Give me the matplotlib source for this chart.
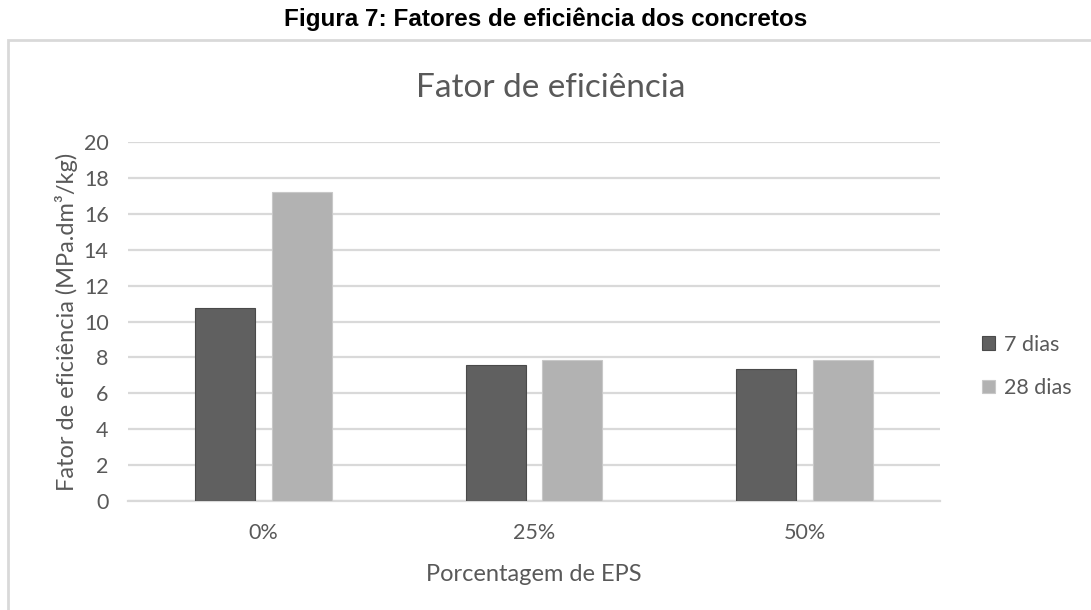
import matplotlib
matplotlib.use("Agg")
import matplotlib.pyplot as plt
import numpy as np
from matplotlib.patches import Rectangle

categories = ["0%", "25%", "50%"]
series_names = ["7 dias", "28 dias"]
dias_7 = [10.73, 7.59, 7.37]
dias_28 = [17.23, 7.87, 7.87]
y_ticks = list(range(0, 21, 2))

txt = "#595959"
grid = "#d9d9d9"
font = ["Lato", "DejaVu Sans"]

fig = plt.figure(figsize=(10.91, 6.10), dpi=100)

# chart frame (Excel border)
fig.patches.append(Rectangle((8 / 1091, -0.1), 1.2, 1.1 - 40 / 610,
                             transform=fig.transFigure, fill=False,
                             edgecolor=grid, linewidth=2))

fig.text(0.5, 1 - 19 / 610, "Figura 7: Fatores de eficiência dos concretos",
         ha="center", va="center", fontsize=17.5, fontweight="bold",
         family=["Liberation Sans Narrow", "Liberation Sans", "DejaVu Sans"])

fig.text(551 / 1091, 1 - 88 / 610, "Fator de eficiência", ha="center", va="center",
         fontsize=24, color=txt, family=font)

ax = fig.add_axes([128 / 1091, 1 - 501 / 610, 812 / 1091, 359 / 610])

x = np.arange(len(categories))
w = 0.222
off = 0.142
ax.bar(x - off, dias_7, w, color="#606060", edgecolor="#4a4a4a", linewidth=0.8,
       label=series_names[0], zorder=3)
ax.bar(x + off, dias_28, w, color="#b2b2b2", edgecolor="#c8c8c8", linewidth=0.8,
       label=series_names[1], zorder=3)

ax.set_xlim(-0.5, 2.5)
ax.set_ylim(0, 20)
ax.set_yticks(y_ticks)
ax.set_xticks(x)
ax.set_xticklabels(categories)
ax.yaxis.grid(True, color=grid, linewidth=1.6, zorder=0)
ax.set_axisbelow(True)
for s in ["top", "right", "left"]:
    ax.spines[s].set_visible(False)
ax.spines["bottom"].set_color(grid)
ax.spines["bottom"].set_linewidth(1.6)
ax.tick_params(axis="both", length=0, colors=txt, labelsize=15.5)
ax.tick_params(axis="x", pad=16)
ax.tick_params(axis="y", pad=14)
for lab in ax.get_xticklabels() + ax.get_yticklabels():
    lab.set_family(font)

ax.set_xlabel("Porcentagem de EPS", fontsize=17, color=txt, family=font, labelpad=15)
ax.set_ylabel("Fator de eficiência (MPa.dm³/kg)", fontsize=17, color=txt,
              family=font, labelpad=4)

leg = ax.legend(loc="center left", bbox_to_anchor=(1.028, 0.375), frameon=False,
                handlelength=0.6, handleheight=0.6, handletextpad=0.4,
                labelspacing=1.09, prop={"family": font, "size": 15.5})
for t in leg.get_texts():
    t.set_color(txt)

fig.savefig("out.png", dpi=100)
